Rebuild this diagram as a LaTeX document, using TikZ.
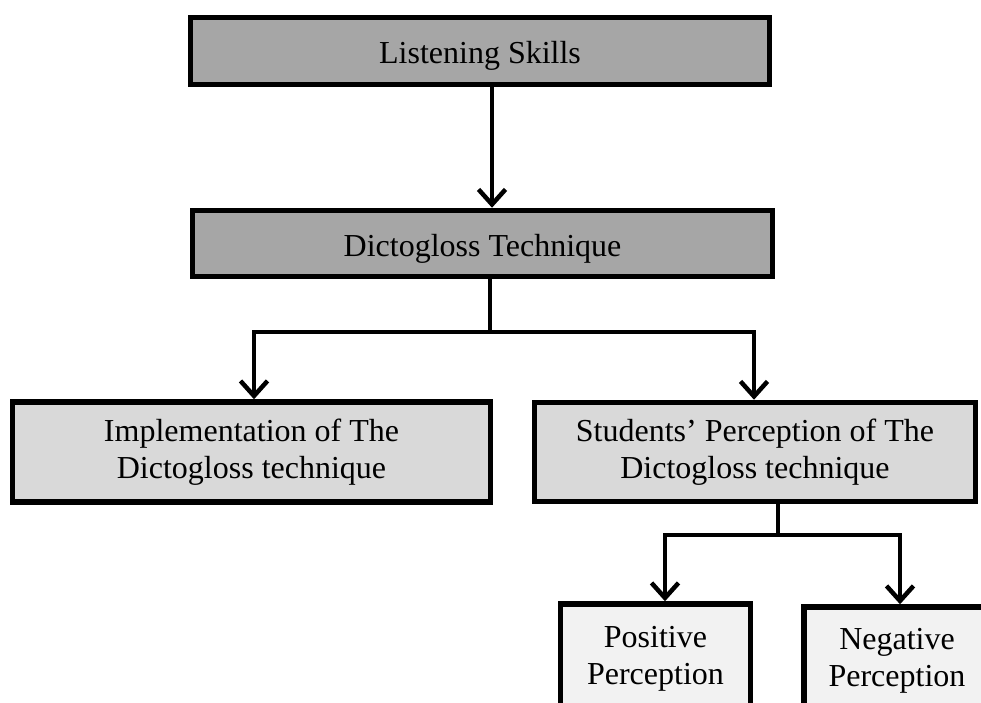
\documentclass[tikz,border=0pt]{standalone}
\usepackage{fontspec}
\setmainfont{Liberation Serif}
\usetikzlibrary{arrows.meta}
\definecolor{darkfill}{HTML}{A6A6A6}
\definecolor{midfill}{HTML}{D9D9D9}
\definecolor{lightfill}{HTML}{F2F2F2}
\begin{document}
\begin{tikzpicture}[x=1pt,y=-1pt,
  box/.style={draw=black, line width=5.5pt, rectangle, align=center, inner sep=0pt,
    font=\fontsize{32}{37}\selectfont},
  conn/.style={line width=4.5pt, line join=miter},
  arr/.style={conn, -{Straight Barb[length=15pt,width=27pt]}}]
\useasboundingbox (0,0) rectangle (981,702);
\clip (0,0) rectangle (981,702);
\fill[white] (0,0) rectangle (981,702);

\node[box, fill=darkfill, minimum width=579pt, minimum height=67pt] (ls) at (480,51) {\raisebox{-5pt}[22pt][7pt]{Listening Skills}};
\node[box, fill=darkfill, minimum width=580pt, minimum height=66pt] (dt) at (482.5,243.5) {\raisebox{-5pt}[22pt][7pt]{Dictogloss Technique}};
\node[box, fill=midfill, minimum width=478pt, minimum height=100pt] (imp) at (251.5,452) {Implementation of The\\Dictogloss technique};
\node[box, fill=midfill, minimum width=441pt, minimum height=99pt] (sp) at (755,452) {Students’ Perception of The\\Dictogloss technique};
\node[box, fill=lightfill, minimum width=190pt, minimum height=110pt] (pos) at (655.5,659) {Positive\\Perception};
\node[box, fill=lightfill, minimum width=186pt, minimum height=108pt] (neg) at (897,661) {Negative\\Perception};

\coordinate (a1) at (492,0);
\draw[arr] (ls.south -| a1) -- (dt.north -| a1);

\coordinate (b1) at (490,332);
\coordinate (l1) at (254,332);
\coordinate (r1) at (754,332);
\draw[arr] (dt.south -| b1) |- (l1) -- (imp.north -| l1);
\draw[arr] (dt.south -| b1) |- (r1) -- (sp.north -| r1);

\coordinate (b2) at (778,535);
\coordinate (l2) at (665,535);
\coordinate (r2) at (900,535);
\draw[arr] (sp.south -| b2) |- (l2) -- (pos.north -| l2);
\draw[arr] (sp.south -| b2) |- (r2) -- (neg.north -| r2);
\end{tikzpicture}
\end{document}
